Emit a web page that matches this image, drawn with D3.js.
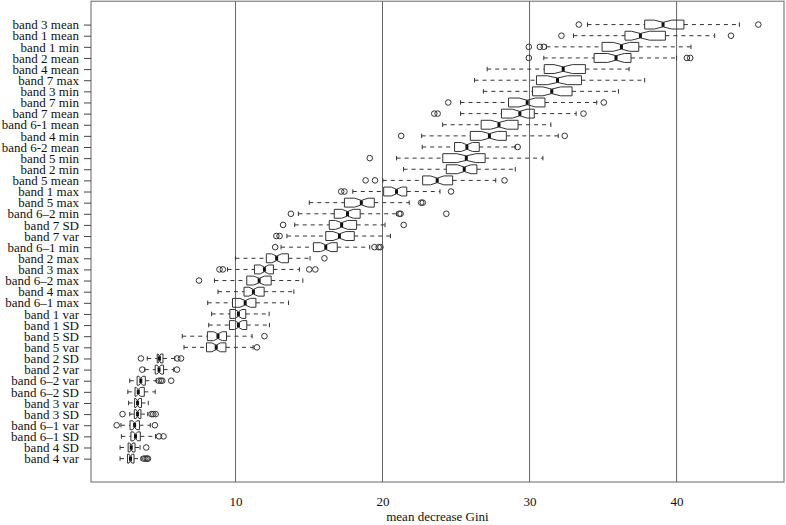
<!DOCTYPE html>
<html>
<head>
<meta charset="utf-8">
<script src="https://cdn.jsdelivr.net/npm/d3@7"></script>
<style>
  html, body { margin: 0; padding: 0; background: #fff; }
  svg { display: block; }
  text { font-family: "Liberation Serif", "Times New Roman", Times, serif; fill: #111; }
</style>
</head>
<body>
<svg id="chart" width="786" height="525"></svg>
<script>
// ---- data (top to bottom) ----
const categories = ["band 3 mean","band 1 mean","band 1 min","band 2 mean","band 4 mean","band 7 max","band 3 min","band 7 min","band 7 mean","band 6-1 mean","band 4 min","band 6-2 mean","band 5 min","band 2 min","band 5 mean","band 1 max","band 5 max","band 6–2 min","band 7 SD","band 7 var","band 6–1 min","band 2 max","band 3 max","band 6–2 max","band 4 max","band 6–1 max","band 1 var","band 1 SD","band 5 SD","band 5 var","band 2 SD","band 2 var","band 6–2 var","band 6–2 SD","band 3 var","band 3 SD","band 6–1 var","band 6–1 SD","band 4 SD","band 4 var"];

const lowerWhisker = [33.94,32.99,31.15,30.97,27.12,26.26,26.86,25.31,25.31,24.09,22.66,22.70,20.96,21.43,20.02,17.98,15.02,14.28,14.03,13.50,13.10,10.00,9.46,8.57,8.81,8.11,8.38,8.18,6.38,6.50,4.00,3.83,2.81,2.68,2.73,2.81,2.21,2.24,2.15,2.15];
const lowerQuartile = [37.83,36.49,34.93,34.39,31.00,30.47,30.20,28.57,28.09,26.71,25.97,24.90,24.10,24.34,22.73,20.08,17.41,16.72,16.38,16.14,15.30,12.10,11.29,10.77,10.58,9.80,9.62,9.59,8.09,8.03,4.68,4.54,3.31,3.17,3.14,3.12,2.83,2.89,2.70,2.66];
const medianValue = [39.08,37.54,36.25,35.88,32.29,31.90,31.51,29.84,29.34,27.92,27.27,25.74,25.70,25.56,23.72,20.95,18.56,17.62,17.22,17.07,16.14,12.80,11.97,11.61,11.22,10.66,10.20,10.20,8.81,8.69,4.83,4.80,3.56,3.39,3.34,3.34,3.14,3.20,2.91,2.86];
const upperQuartile = [40.50,39.24,37.43,36.90,33.80,33.53,32.89,31.05,30.32,29.22,28.42,26.58,26.98,26.42,24.77,21.65,19.44,18.48,18.24,18.08,16.92,13.60,12.58,12.43,11.95,11.39,10.70,10.77,9.39,9.35,5.07,5.11,3.87,3.80,3.61,3.57,3.47,3.53,3.17,3.10];
const upperWhisker = [44.27,42.59,40.98,40.00,36.77,37.83,36.05,34.57,33.17,31.45,31.95,29.03,30.91,29.03,27.70,23.91,21.82,20.96,20.17,20.54,19.13,15.07,14.35,14.58,13.97,13.61,12.29,12.31,11.13,11.20,5.87,5.80,4.61,4.54,4.07,4.03,4.21,4.56,3.51,3.58];
const outliers = [
  [33.35,45.56],[32.17,43.70],[29.95,30.70,30.97],[29.95,40.70,40.93],[],[],[],[24.47,35.05],[23.52,23.75,33.67],[],
  [21.27,32.39],[29.19],[19.13],[],[18.85,19.49,28.30],[17.19,17.41,24.66],[22.63,22.74],[13.77,21.14,21.23,24.34],[13.24,21.44],[12.78,13.00],
  [12.70,19.45,19.74,19.86],[16.05],[8.91,9.14,15.02,15.43],[7.52],[],[],[],[],[11.97],[11.46],
  [3.57,6.04,6.30],[3.66,6.02],[4.78,4.92,5.02,5.63],[],[],[2.32,4.29,4.41,4.57],[1.92,4.52],[4.80,5.11],[3.93],[3.75,3.87,3.97,4.05]
];
const runsPerVariable = 50;           // sample size behind each box (used for notches)
const xTickValues = [10, 20, 30, 40];
const xTitle = "mean decrease Gini";

// ---- layout ----
const svg = d3.select("#chart");
const plot = { left: 91, right: 784, top: 1.2, bottom: 482 };

const rows = categories.map((c, i) => ({
  name: c,
  lo: lowerWhisker[i], q1: lowerQuartile[i], med: medianValue[i],
  q3: upperQuartile[i], hi: upperWhisker[i], out: outliers[i]
}));

const allVals = rows.flatMap(r => [r.lo, r.hi, ...r.out]);
const [vmin, vmax] = d3.extent(allVals);
const pad = (vmax - vmin) * 0.04;

const x = d3.scaleLinear().domain([vmin - pad, vmax + pad]).range([plot.left, plot.right]);
const y = d3.scalePoint().domain(categories).range([plot.top, plot.bottom]).padding(2.1);

const half = y.step() * 0.4;        // half box height
const notchFrac = 0.5;
const lineCol = "#333";

// grid lines
svg.append("g").selectAll("line").data(xTickValues).join("line")
  .attr("x1", d => x(d)).attr("x2", d => x(d))
  .attr("y1", plot.top).attr("y2", plot.bottom)
  .attr("stroke", "#666").attr("stroke-width", 1);

const g = svg.append("g");
const box = g.selectAll("g.box").data(rows).join("g").attr("class", "box")
  .attr("transform", d => `translate(0,${y(d.name)})`);

// whiskers (dashed)
box.append("line")
  .attr("x1", d => x(d.lo)).attr("x2", d => x(d.q1)).attr("y1", 0).attr("y2", 0)
  .attr("stroke", lineCol).attr("stroke-dasharray", "4,4");
box.append("line")
  .attr("x1", d => x(d.q3)).attr("x2", d => x(d.hi)).attr("y1", 0).attr("y2", 0)
  .attr("stroke", lineCol).attr("stroke-dasharray", "4,4");
// staples
box.append("line")
  .attr("x1", d => x(d.lo)).attr("x2", d => x(d.lo)).attr("y1", -half / 2).attr("y2", half / 2)
  .attr("stroke", lineCol);
box.append("line")
  .attr("x1", d => x(d.hi)).attr("x2", d => x(d.hi)).attr("y1", -half / 2).attr("y2", half / 2)
  .attr("stroke", lineCol);

// notched box
box.append("path")
  .attr("d", d => {
    const c = 1.58 * (d.q3 - d.q1) / Math.sqrt(runsPerVariable);
    const a = x(d.med - c), b = x(d.med + c), m = x(d.med);
    const pts = [
      [x(d.q1), -half], [a, -half], [m, -half * notchFrac], [b, -half], [x(d.q3), -half],
      [x(d.q3), half], [b, half], [m, half * notchFrac], [a, half], [x(d.q1), half]
    ];
    return d3.line()(pts) + "Z";
  })
  .attr("fill", "none").attr("stroke", lineCol).attr("stroke-width", 1);

// median
box.append("line")
  .attr("x1", d => x(d.med)).attr("x2", d => x(d.med))
  .attr("y1", -half * notchFrac).attr("y2", half * notchFrac)
  .attr("stroke", "#111").attr("stroke-width", 3);

// outliers
box.selectAll("circle").data(d => d.out).join("circle")
  .attr("cx", d => x(d)).attr("cy", 0).attr("r", 2.8)
  .attr("fill", "none").attr("stroke", lineCol).attr("stroke-width", 1);

// frame
svg.append("rect")
  .attr("x", plot.left).attr("y", plot.top)
  .attr("width", plot.right - plot.left).attr("height", plot.bottom - plot.top)
  .attr("fill", "none").attr("stroke", "#666").attr("stroke-width", 1);

// y axis
const yAxis = svg.append("g").attr("transform", `translate(${plot.left},0)`)
  .call(d3.axisLeft(y).tickSize(7).tickSizeOuter(0).tickPadding(5));
yAxis.select(".domain").remove();
yAxis.selectAll("line").attr("stroke", "#444");
yAxis.selectAll("text").style("font-size", "13px").style("font-family", "'Liberation Serif', serif").attr("fill", "#111");

// x axis (labels only)
const xAxis = svg.append("g").attr("transform", `translate(0,${plot.bottom})`)
  .call(d3.axisBottom(x).tickValues(xTickValues).tickSize(0).tickPadding(15));
xAxis.select(".domain").remove();
xAxis.selectAll("text").style("font-size", "13px").style("font-family", "'Liberation Serif', serif").attr("fill", "#111");

svg.append("text")
  .attr("x", (plot.left + plot.right) / 2).attr("y", 521)
  .attr("text-anchor", "middle").style("font-size", "13px")
  .text(xTitle);
</script>
</body>
</html>
